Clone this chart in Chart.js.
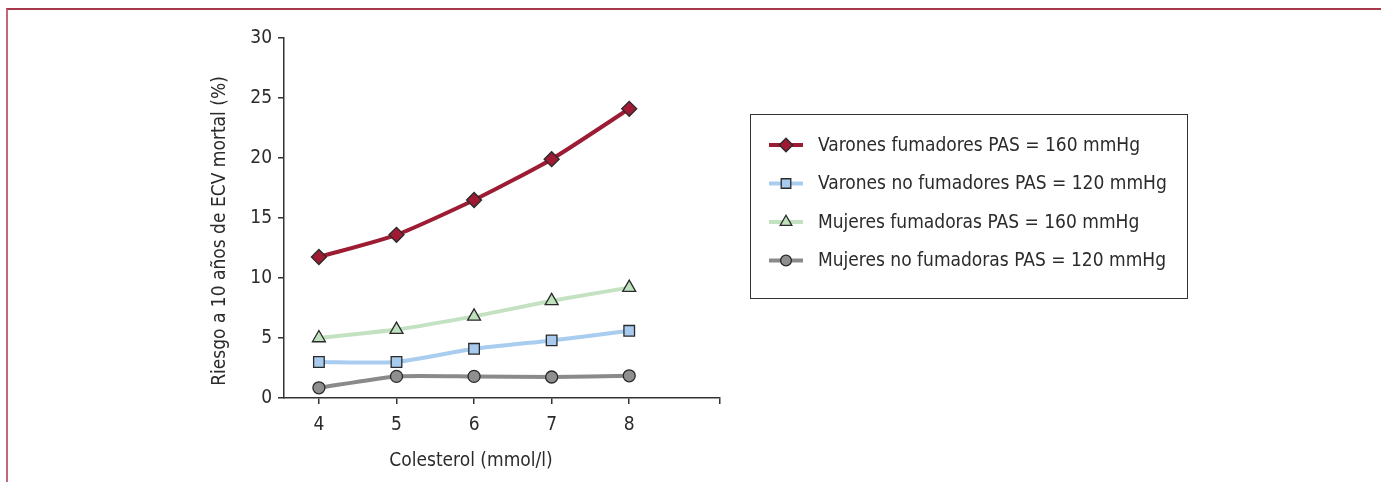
<!DOCTYPE html>
<html>
<head>
<meta charset="utf-8">
<script src="https://cdn.jsdelivr.net/npm/chart.js@4.4.0/dist/chart.umd.min.js"></script>
<style>
  html, body { margin: 0; padding: 0; background: #fff; }
  #wrap { position: relative; width: 1381px; height: 482px; overflow: hidden; }
  #frame { position: absolute; left: 6px; top: 8px; width: 1400px; height: 500px;
           border-top: 2px solid #a8384b; border-left: 2px solid #c46879; }
  canvas { position: absolute; left: 0; top: 0; }
</style>
</head>
<body>
<div id="wrap">
  <div id="frame"></div>
  <canvas id="riskChart" width="1381" height="482"></canvas>
</div>
<script>
// Riesgo a 10 años de ECV mortal según colesterol
const FONT = '"DejaVu Sans Condensed", "Liberation Sans Narrow", sans-serif';
const FONT_SIZE = 19;
const TEXT_COLOR = '#2b2b2b';

const cholesterol = [4, 5, 6, 7, 8];
const xTicks = [4, 5, 6, 7, 8, 9.17];
const yTicks = [0, 5, 10, 15, 20, 25, 30];

const seriesLabels = [
  'Varones fumadores PAS = 160 mmHg',
  'Varones no fumadores PAS = 120 mmHg',
  'Mujeres fumadoras PAS = 160 mmHg',
  'Mujeres no fumadoras PAS = 120 mmHg'
];
const menSmokers = [11.75, 13.6, 16.5, 19.9, 24.1];
const menNonSmokers = [3.0, 3.0, 4.1, 4.8, 5.6];
const womenSmokers = [5.0, 5.7, 6.8, 8.1, 9.2];
const womenNonSmokers = [0.85, 1.8, 1.8, 1.75, 1.85];

const xTitle = 'Colesterol (mmol/l)';
const yTitle = 'Riesgo a 10 años de ECV mortal (%)';

function toPoints(values) {
  return cholesterol.map((x, i) => ({ x, y: values[i] }));
}

function makeDataset(label, values, line, fill, style, radius) {
  return {
    label,
    data: toPoints(values),
    borderColor: line,
    borderWidth: 4,
    tension: 0.2,
    pointStyle: style,
    pointRadius: radius,
    pointBackgroundColor: fill,
    pointBorderColor: '#2a2a2a',
    pointBorderWidth: 1.3
  };
}

const datasets = [
  makeDataset(seriesLabels[3], womenNonSmokers, '#8a8a8a', '#8f8f8f', 'circle', 6),
  makeDataset(seriesLabels[1], menNonSmokers, '#a9cdef', '#a8caee', 'rect', 7.5),
  makeDataset(seriesLabels[2], womenSmokers, '#c3e2c1', '#c0e1bd', 'triangle', 7.5),
  makeDataset(seriesLabels[0], menSmokers, '#9c1c34', '#9e1b33', 'rectRot', 7.5)
];

// legend order as in the figure
const legendOrder = [3, 1, 2, 0];

const boxLegend = {
  id: 'boxLegend',
  afterDraw(chart) {
    const ctx = chart.ctx;
    ctx.save();
    ctx.strokeStyle = '#333';
    ctx.lineWidth = 1;
    ctx.strokeRect(750.5, 114.5, 437, 184);

    legendOrder.forEach((dsIndex, row) => {
      const ds = chart.data.datasets[dsIndex];
      const y = 145 + row * 38.5;
      ctx.strokeStyle = ds.borderColor;
      ctx.lineWidth = 4;
      ctx.beginPath();
      ctx.moveTo(769, y);
      ctx.lineTo(803, y);
      ctx.stroke();

      ctx.fillStyle = ds.pointBackgroundColor;
      ctx.strokeStyle = ds.pointBorderColor;
      ctx.lineWidth = ds.pointBorderWidth;
      Chart.helpers.drawPoint(ctx, {
        pointStyle: ds.pointStyle,
        radius: ds.pointRadius * 0.9,
        rotation: 0,
        borderWidth: ds.pointBorderWidth
      }, 786, y);

      ctx.fillStyle = TEXT_COLOR;
      ctx.font = FONT_SIZE + 'px ' + FONT;
      ctx.textBaseline = 'middle';
      ctx.textAlign = 'left';
      ctx.fillText(ds.label, 818, y + 1);
    });

    // axis titles sit off the axis centres in the figure, so place them here
    ctx.fillStyle = TEXT_COLOR;
    ctx.font = FONT_SIZE + 'px ' + FONT;
    ctx.textAlign = 'center';
    ctx.textBaseline = 'middle';
    ctx.fillText(xTitle, 471, 461);

    ctx.translate(220, 231);
    ctx.rotate(-Math.PI / 2);
    ctx.fillText(yTitle, 0, 0);
    ctx.restore();
  }
};

new Chart(document.getElementById('riskChart'), {
  type: 'line',
  data: { datasets },
  plugins: [boxLegend],
  options: {
    responsive: false,
    animation: false,
    layout: { padding: { left: 208, top: 38, right: 661, bottom: 4 } },
    plugins: {
      legend: { display: false },
      tooltip: { enabled: false }
    },
    scales: {
      x: {
        type: 'linear',
        min: 3.55,
        max: 9.17,
        afterBuildTicks: (scale) => {
          scale.ticks = xTicks.map((value) => ({ value }));
        },
        afterFit: (scale) => {
          scale.height = 80;
        },
        ticks: {
          callback: (value) => (value <= 8 ? value : ''),
          font: { family: FONT, size: FONT_SIZE },
          color: TEXT_COLOR,
          padding: 10,
          maxRotation: 0,
          autoSkip: false
        },
        grid: { drawOnChartArea: false, tickLength: 6, color: '#333', lineWidth: 1.5 },
        border: { color: '#333', width: 1.5 }
      },
      y: {
        min: 0,
        max: 30,
        afterBuildTicks: (scale) => {
          scale.ticks = yTicks.map((value) => ({ value }));
        },
        afterFit: (scale) => {
          scale.width = 76;
        },
        ticks: {
          font: { family: FONT, size: FONT_SIZE },
          color: TEXT_COLOR,
          padding: 6
        },
        grid: { drawOnChartArea: false, tickLength: 6, color: '#333', lineWidth: 1.5 },
        border: { color: '#333', width: 1.5 }
      }
    }
  }
});
</script>
</body>
</html>
